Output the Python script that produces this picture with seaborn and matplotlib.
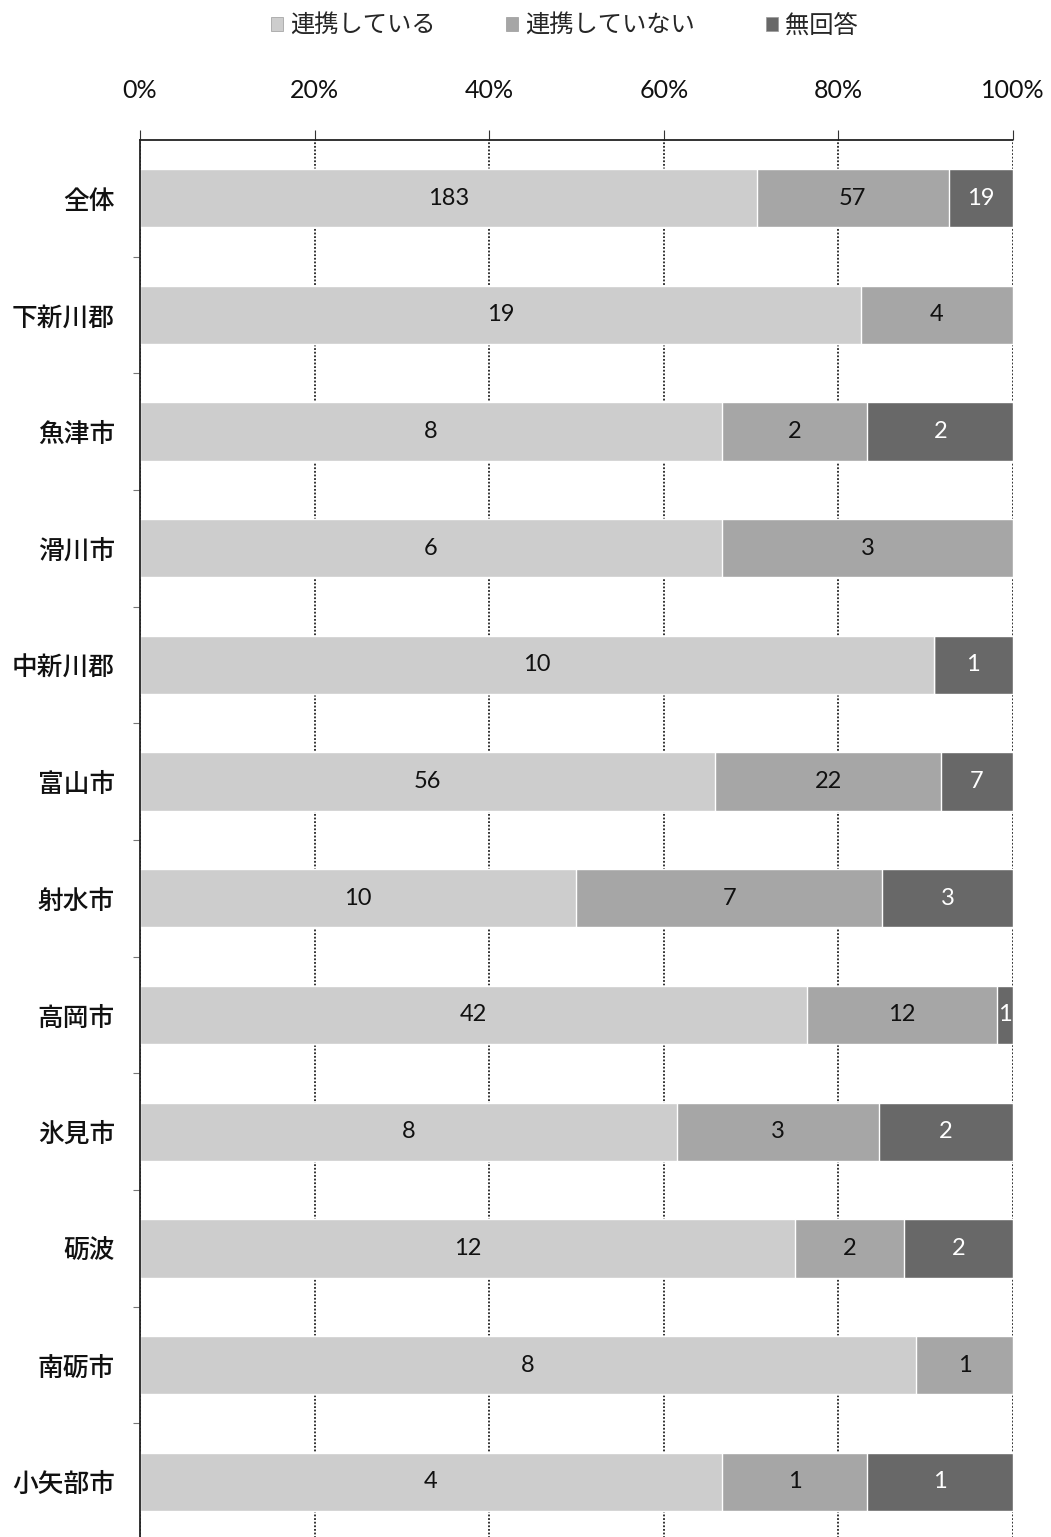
import pandas as pd
import numpy as np
import matplotlib.pyplot as plt
import matplotlib.patches as mpatches
from matplotlib.ticker import FixedLocator, PercentFormatter
import seaborn as sns

# data (counts)
areas = ["全体", "下新川郡", "魚津市", "滑川市", "中新川郡", "富山市",
         "射水市", "高岡市", "氷見市", "砺波", "南砺市", "小矢部市"]
renkei = [183, 19, 8, 6, 10, 56, 10, 42, 8, 12, 8, 4]
not_renkei = [57, 4, 2, 3, 0, 22, 7, 12, 3, 2, 1, 1]
no_answer = [19, 0, 2, 0, 1, 7, 3, 1, 2, 2, 0, 1]

series = ["連携している", "連携していない", "無回答"]
colors = ["#cdcdcd", "#a6a6a6", "#686868"]
text_colors = ["#111111", "#111111", "white"]

df = pd.DataFrame({"area": areas, series[0]: renkei,
                   series[1]: not_renkei, series[2]: no_answer})
counts = df[series]
pct = counts.div(counts.sum(axis=1), axis=0) * 100
cum = pct.cumsum(axis=1)
df_cum = pd.concat([df[["area"]], cum], axis=1)

sns.set_style("white")
plt.rcParams['font.family'] = ['Noto Sans CJK JP', 'DejaVu Sans']

fig = plt.figure(figsize=(10.51, 15.37), dpi=100)
ax = fig.add_axes([0.1332, -0.002, 0.8306, 0.911])

# stacked bars: draw cumulative sums from the back forward
for s, c in zip(series[::-1], colors[::-1]):
    sns.barplot(data=df_cum, y="area", x=s, color=c, width=0.5,
                orient="h", ax=ax, saturation=1, zorder=2)

# counts in the middle of each segment
for i in range(len(areas)):
    left = 0
    for j, s in enumerate(series):
        w = pct.iloc[i][s]
        n = counts.iloc[i][s]
        if n > 0:
            ax.text(left + w / 2, i, str(n), ha="center", va="center",
                    fontsize=17, color=text_colors[j],
                    family=["Lato", "DejaVu Sans"], zorder=3)
        left += w

ax.set_xlim(0, 100)
ax.set_ylim(len(areas) - 0.5, -0.5)
ax.set_xlabel("")
ax.set_ylabel("")
ax.xaxis.set_major_locator(FixedLocator([0, 20, 40, 60, 80, 100]))
ax.xaxis.set_major_formatter(PercentFormatter(decimals=0))
ax.xaxis.tick_top()
ax.tick_params(axis="x", top=True, length=7, pad=20, labelsize=18,
               color="#333333", labelcolor="#111111")
for lab in ax.get_xticklabels():
    lab.set_family(["Lato", "DejaVu Sans"])
ax.tick_params(axis="y", length=0, pad=18, labelsize=18.5, labelcolor="#111111")
for lab in ax.get_yticklabels():
    lab.set_fontweight("medium")
ax.yaxis.set_minor_locator(FixedLocator(np.arange(0.5, len(areas) - 1, 1)))
ax.tick_params(axis="y", which="minor", left=True, length=5, width=0.8,
               color="#777777")

ax.grid(axis="x", color="#222222", linestyle=(0, (1, 1)), linewidth=1.3, zorder=1)
ax.set_axisbelow(True)
for side in ["right", "bottom"]:
    ax.spines[side].set_visible(False)
for side in ["top", "left"]:
    ax.spines[side].set_linestyle((0, (1, 1)))
    ax.spines[side].set_color("#222222")
    ax.spines[side].set_linewidth(1.3)

handles = [mpatches.Patch(facecolor=c, edgecolor="#999999", linewidth=0.5, label=s)
           for s, c in zip(series, colors)]
fig.legend(handles=handles, loc="upper center", bbox_to_anchor=(0.537, 1.006),
           ncol=3, frameon=False, fontsize=17.5, handlelength=0.5,
           handleheight=0.5, handletextpad=0.3, columnspacing=2.9)

plt.savefig("out.png", dpi=100)
